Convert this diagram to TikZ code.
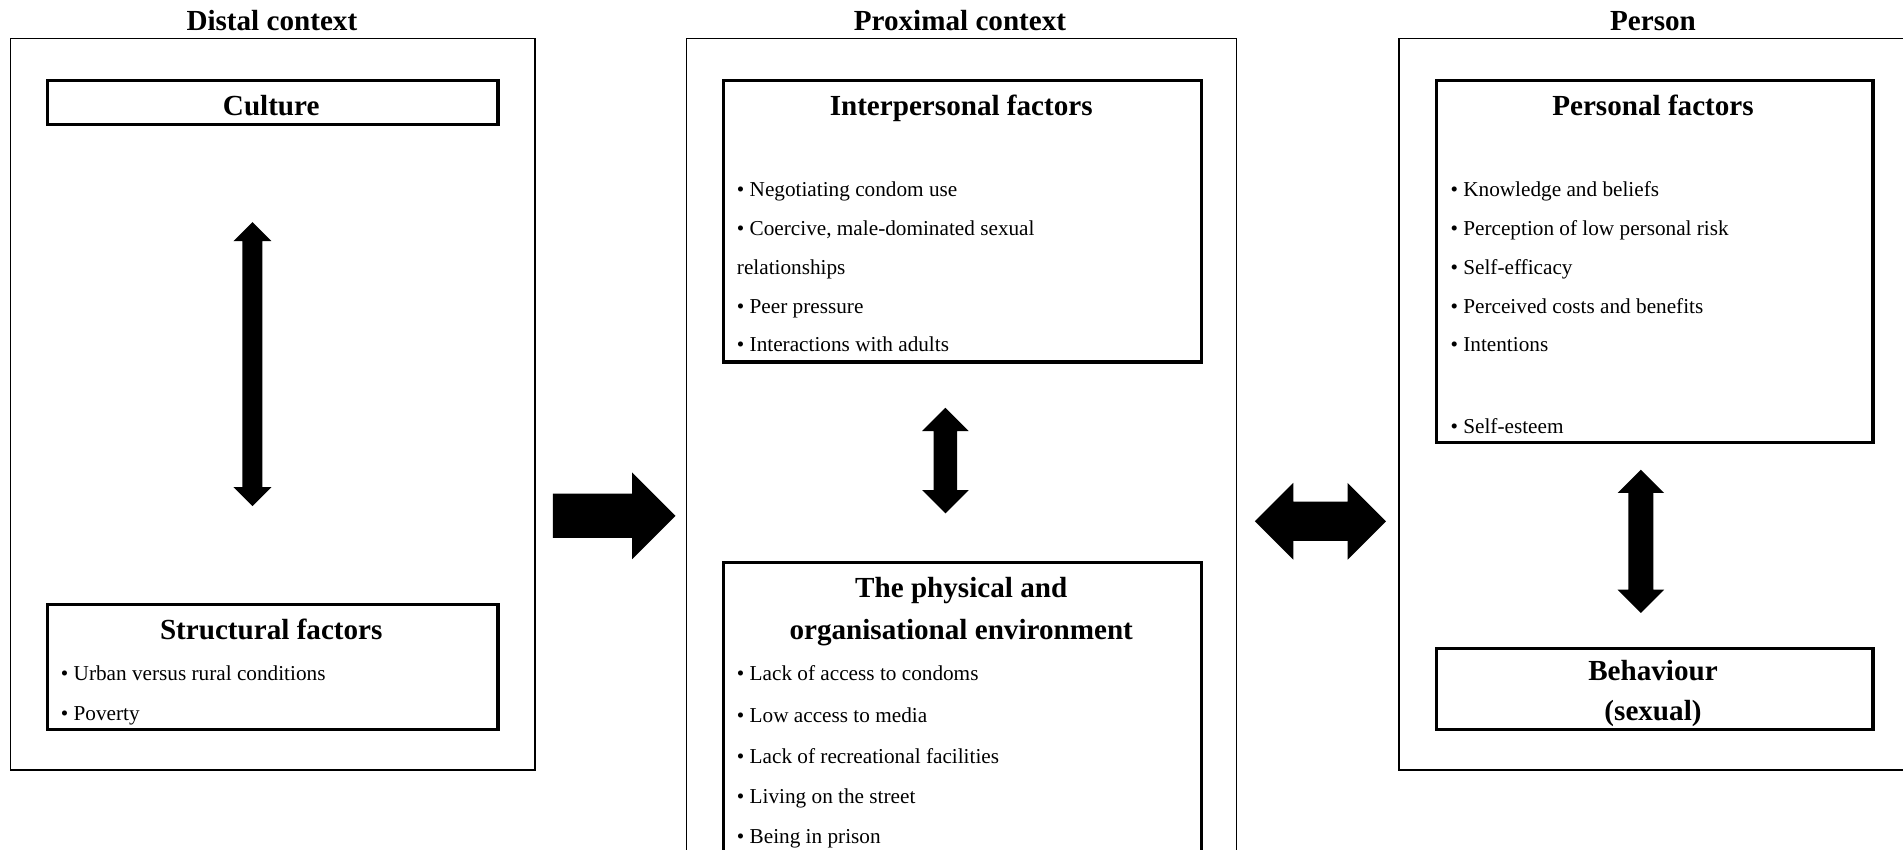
\documentclass[tikz,border=0pt]{standalone}
\usepackage{fontspec}
\setmainfont{Liberation Serif}
\usepackage{tikz}
\usetikzlibrary{shapes.arrows,positioning,calc}

\tikzset{
  outerbox/.style={draw,line width=1.3pt,anchor=north west,inner sep=0pt},
  innerbox/.style={draw,line width=2.6pt,anchor=north west,inner sep=0pt},
  heading/.style={font=\bfseries\fontsize{24}{28}\selectfont,anchor=base,inner sep=0pt},
  item/.style={font=\fontsize{17.5}{21}\selectfont,anchor=base west,inner sep=0pt},
  blockarrow/.style={fill=black,draw=none,inner xsep=0pt,outer sep=0pt},
}

\begin{document}
\begin{tikzpicture}[x=1pt,y=-1pt]
\useasboundingbox (0,0) rectangle (1568,700);
\clip (0,0) rectangle (1568,700);

% Column frames
\node[outerbox,minimum width=432pt,minimum height=603pt] (distal) at (8,31) {};
\node[outerbox,minimum width=453pt,minimum height=720pt] (proximal) at (565,31) {};
\node[outerbox,minimum width=440pt,minimum height=603pt] (person) at (1152,31) {};
\node[heading] (distalhead) at (224,25) {Distal context};
\node[heading] (proximalhead) at (791,25) {Proximal context};
\node[heading] (personhead) at (1362,25) {Person};

% Factor boxes
\node[innerbox,minimum width=371pt,minimum height=36pt] (culture) at (38,65) {};
\node[innerbox,minimum width=371pt,minimum height=103pt] (structural) at (38,497) {};
\node[innerbox,minimum width=394pt,minimum height=232pt] (interpersonal) at (595,65) {};
\node[innerbox,minimum width=394pt,minimum height=280pt] (environment) at (595,462) {};
\node[innerbox,minimum width=360pt,minimum height=298pt] (personal) at (1182,65) {};
\node[innerbox,minimum width=360pt,minimum height=67pt] (behaviour) at (1182,533) {};

% Box titles
\node[heading] (culturetitle) at (223.5,95) {Culture};
\node[heading] (structuraltitle) at (223.5,527) {Structural factors};
\node[heading] (interpersonaltitle) at (792,95) {Interpersonal factors};
\node[heading] (environmenttitle) at (792,492) {The physical and};
\node[heading] (environmenttitle2) at (792,527) {organisational environment};
\node[heading] (personaltitle) at (1362,95) {Personal factors};
\node[heading] (behaviourtitle) at (1362,561) {Behaviour};
\node[heading] (behaviourtitle2) at (1362,594) {(sexual)};

% Bullet lists
\foreach \y/\t in {561/Urban versus rural conditions,594/Poverty}
    \node[item] (structural-\y) at (50,\y) {\textbullet\ \t};
\foreach \y/\t in {162/Negotiating condom use,194/{Coercive, male-dominated sexual},258/Peer pressure,290/Interactions with adults}
    \node[item] (interpersonal-\y) at (607,\y) {\textbullet\ \t};
\node[item] (interpersonal-226) at (607,226) {relationships};
\foreach \y/\t in {561/Lack of access to condoms,595/Low access to media,629/Lack of recreational facilities,662/Living on the street,695/Being in prison}
    \node[item] (environment-\y) at (607,\y) {\textbullet\ \t};
\foreach \y/\t in {162/Knowledge and beliefs,194/Perception of low personal risk,226/Self-efficacy,258/Perceived costs and benefits,290/Intentions,357/Self-esteem}
    \node[item] (personal-\y) at (1195,\y) {\textbullet\ \t};

% Block arrows
\node[blockarrow,double arrow,rotate=90,minimum height=234pt,minimum width=31pt,inner ysep=8pt,double arrow head extend=7.5pt] (culturelink) at (208,300) {};
\node[blockarrow,double arrow,rotate=90,minimum height=87pt,minimum width=38pt,inner ysep=9.5pt,double arrow head extend=9.5pt] (interpersonallink) at (779,379.5) {};
\node[blockarrow,double arrow,rotate=90,minimum height=118pt,minimum width=38pt,inner ysep=10pt,double arrow head extend=9pt] (personallink) at (1352,446) {};
\node[blockarrow,double arrow,minimum height=108pt,minimum width=63pt,inner ysep=16pt,double arrow head extend=15.5pt] (contextlink) at (1088,429.5) {};
\node[blockarrow,single arrow,minimum height=101pt,minimum width=71pt,inner ysep=18pt,single arrow head extend=17.5pt] (distallink) at (497,425) {};
\end{tikzpicture}
\end{document}
